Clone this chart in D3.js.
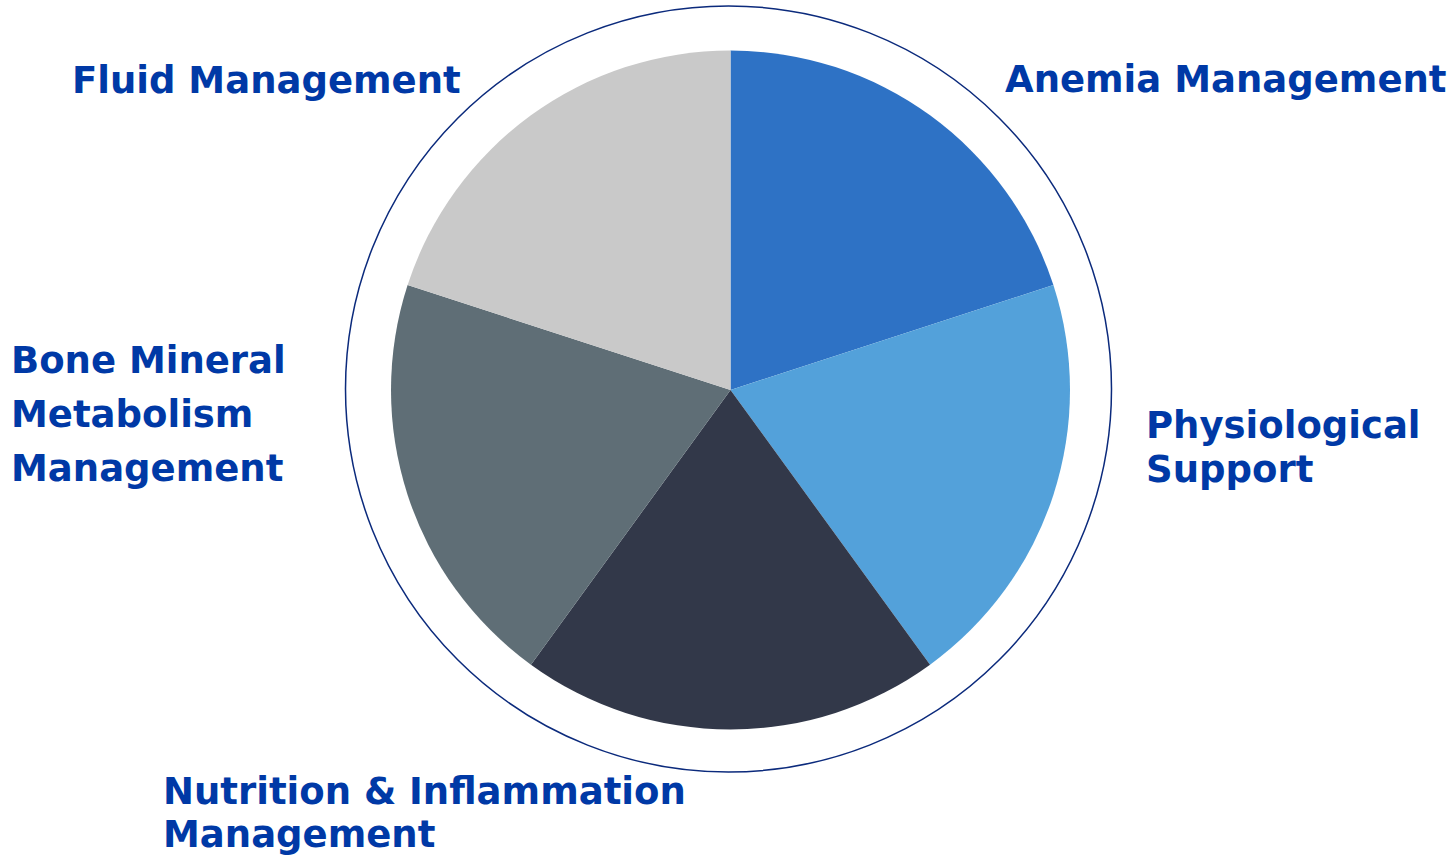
<!DOCTYPE html>
<html>
<head>
<meta charset="utf-8">
<script src="https://cdn.jsdelivr.net/npm/d3@7"></script>
<style>
  body { margin: 0; background: #fff; }
  text { font-family: "DejaVu Sans", Verdana, sans-serif; font-weight: bold; }
</style>
</head>
<body>
<div id="chart"></div>
<script>
const categories = ["Anemia Management", "Physiological Support", "Nutrition & Inflammation Management", "Bone Mineral Metabolism Management", "Fluid Management"];
const values = [20, 20, 20, 20, 20];
const colors = ["#2e72c5", "#53a1da", "#323849", "#5f6e76", "#c9c9c9"];
// label lines as shown in the picture
const labelLines = [
    ["Anemia Management"],
    ["Physiological", "Support"],
    ["Nutrition & Inflammation", "Management"],
    ["Bone Mineral", "Metabolism", "Management"],
    ["Fluid Management"]
];

const WIDTH = 1456;
const HEIGHT = 856;
const cx = 730.5, cy = 390, R = 339.5;

const svg = d3.select("#chart")
    .append("svg")
        .attr("width", WIDTH)
        .attr("height", HEIGHT)

// outer ring
svg.append("circle")
    .attr("cx", 728.5)
    .attr("cy", 389)
    .attr("r", 383)
    .attr("fill", "none")
    .attr("stroke", "#0b2a7c")
    .attr("stroke-width", 1.5)

const pie = d3.pie().sort(null).value(d => d)
const arc = d3.arc().innerRadius(0).outerRadius(R)

svg.append("g")
    .attr("transform", `translate(${cx},${cy})`)
    .selectAll("path")
    .data(pie(values))
    .enter()
    .append("path")
        .attr("d", arc)
        .attr("fill", (d, i) => colors[i])

// label placement: x, first baseline, line step
const labelPos = [
    { x: 1005, y: 92, step: 44 },
    { x: 1146, y: 438, step: 44 },
    { x: 163, y: 804, step: 43 },
    { x: 11, y: 373, step: 54 },
    { x: 72, y: 93, step: 44 }
];

labelLines.forEach((lines, i) => {
    const t = svg.append("text")
        .attr("x", labelPos[i].x)
        .attr("y", labelPos[i].y)
        .attr("fill", "#0039a6")
        .attr("font-size", 37)
    lines.forEach((line, j) => {
        t.append("tspan")
            .attr("x", labelPos[i].x)
            .attr("y", labelPos[i].y + j * labelPos[i].step)
            .text(line)
    })
})
</script>
</body>
</html>
